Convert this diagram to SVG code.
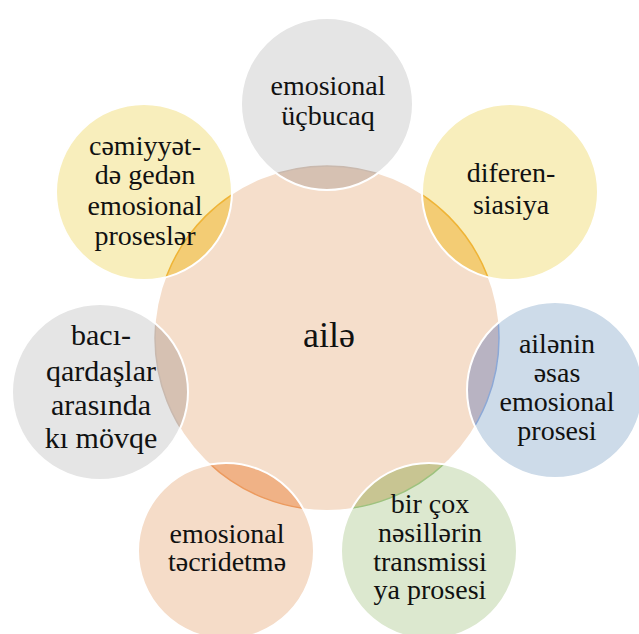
<svg xmlns="http://www.w3.org/2000/svg" width="639" height="634" viewBox="0 0 639 634">
<style>
  text { font-family: "Liberation Serif", "Times New Roman", serif; fill: #111; text-anchor: middle; }
  .t { font-size: 28px; }
  .tl { font-size: 30px; }
  .tc { font-size: 36px; }
  .rim { fill: none; stroke: #ffffff; stroke-width: 2; }
</style>
<defs>
  <clipPath id="cTop"><circle cx="327" cy="104" r="86"/></clipPath>
  <clipPath id="cTR"><circle cx="510" cy="192" r="88"/></clipPath>
  <clipPath id="cR"><circle cx="555" cy="390" r="88"/></clipPath>
  <clipPath id="cBR"><circle cx="429" cy="551" r="88"/></clipPath>
  <clipPath id="cBL"><circle cx="226" cy="551" r="88"/></clipPath>
  <clipPath id="cL"><circle cx="100" cy="392" r="88"/></clipPath>
  <clipPath id="cTL"><circle cx="144" cy="192" r="88"/></clipPath>
</defs>
<rect width="639" height="634" fill="#ffffff"/>

<g id="center">
  <circle cx="327" cy="338" r="172" fill="#F5DECB"/>
  <text class="tc" x="329" y="347">ailə</text>
</g>

<g id="node-top">
  <circle cx="327" cy="104" r="86" fill="#E5E5E5"/>
  <g clip-path="url(#cTop)"><circle cx="327" cy="338" r="172" fill="#D6C1B2" stroke="#C9B9AE" stroke-width="1.5"/></g>
  <circle class="rim" cx="327" cy="104" r="86"/>
  <text class="t" x="328" y="95">emosional</text>
  <text class="t" x="328" y="125">üçbucaq</text>
</g>

<g id="node-top-right">
  <circle cx="510" cy="192" r="88" fill="#F8EEBC"/>
  <g clip-path="url(#cTR)"><circle cx="327" cy="338" r="172" fill="#F3CC74" stroke="#EFB436" stroke-width="1.5"/></g>
  <circle class="rim" cx="510" cy="192" r="88"/>
  <text class="t" x="511" y="182">diferen-</text>
  <text class="t" x="511" y="214">siasiya</text>
</g>

<g id="node-right">
  <circle cx="555" cy="390" r="88" fill="#CDDBE9"/>
  <g clip-path="url(#cR)"><circle cx="327" cy="338" r="172" fill="#B8B3C2" stroke="#8CA8D6" stroke-width="1.5"/></g>
  <circle class="rim" cx="555" cy="390" r="88"/>
  <text class="t" x="557" y="353">ailənin</text>
  <text class="t" x="557" y="382">əsas</text>
  <text class="t" x="557" y="411">emosional</text>
  <text class="t" x="557" y="440">prosesi</text>
</g>

<g id="node-bottom-right">
  <circle cx="429" cy="551" r="88" fill="#DCE8CF"/>
  <g clip-path="url(#cBR)"><circle cx="327" cy="338" r="172" fill="#C8C592" stroke="#9DC27E" stroke-width="1.5"/></g>
  <circle class="rim" cx="429" cy="551" r="88"/>
  <text class="t" x="430" y="513">bir çox</text>
  <text class="t" x="430" y="542">nəsillərin</text>
  <text class="t" x="430" y="571">transmissi</text>
  <text class="t" x="430" y="599">ya prosesi</text>
</g>

<g id="node-bottom-left">
  <circle cx="226" cy="551" r="88" fill="#F5DCC8"/>
  <g clip-path="url(#cBL)"><circle cx="327" cy="338" r="172" fill="#F0B286" stroke="#EC9A5E" stroke-width="1.5"/></g>
  <circle class="rim" cx="226" cy="551" r="88"/>
  <text class="t" x="227" y="543">emosional</text>
  <text class="t" x="227" y="571">təcridetmə</text>
</g>

<g id="node-left">
  <circle cx="100" cy="392" r="88" fill="#E5E5E5"/>
  <g clip-path="url(#cL)"><circle cx="327" cy="338" r="172" fill="#D6C1B2" stroke="#C9B9AE" stroke-width="1.5"/></g>
  <circle class="rim" cx="100" cy="392" r="88"/>
  <text class="tl" x="101" y="345">bacı-</text>
  <text class="tl" x="101" y="381">qardaşlar</text>
  <text class="tl" x="101" y="415">arasında</text>
  <text class="tl" x="101" y="448">kı mövqe</text>
</g>

<g id="node-top-left">
  <circle cx="144" cy="192" r="88" fill="#F8EEBC"/>
  <g clip-path="url(#cTL)"><circle cx="327" cy="338" r="172" fill="#F3CC74" stroke="#EFB436" stroke-width="1.5"/></g>
  <circle class="rim" cx="144" cy="192" r="88"/>
  <text class="t" x="145" y="155">cəmiyyət-</text>
  <text class="t" x="145" y="184">də gedən</text>
  <text class="t" x="145" y="215">emosional</text>
  <text class="t" x="145" y="245">proseslər</text>
</g>

<g id="connectors"/>
</svg>
